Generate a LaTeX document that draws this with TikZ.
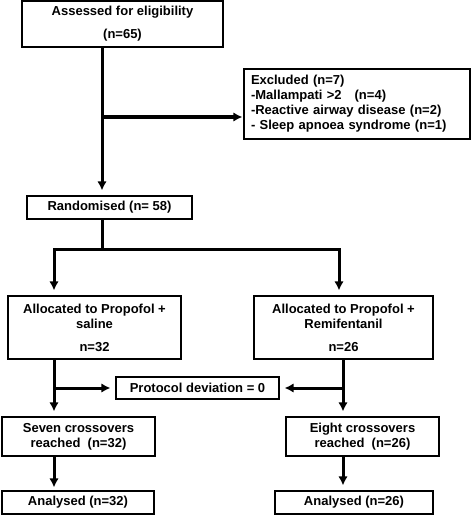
\documentclass[tikz,border=0pt]{standalone}
\usepackage{fontspec}
\setmainfont{Liberation Sans}
\usetikzlibrary{arrows.meta}

\begin{document}
\begin{tikzpicture}[x=1pt,y=-1pt,
  box/.style={draw,line width=1.2pt,align=center,inner sep=0pt,font=\bfseries\fontsize{13}{15}\selectfont},
  lne/.style={line width=3pt},
  arr/.style={lne,-{Latex[length=9pt,width=9.5pt]},shorten >=5pt}]
  \useasboundingbox (0,0) rectangle (472,516);
  % boxes
  \node[box,minimum width=201pt,minimum height=46pt] (assess) at (122.5,24) {Assessed for eligibility\\[8pt](n=65)};
  \node[box,align=left,text width=212pt,inner xsep=7pt,minimum height=70pt] (excl) at (357,104) {Excluded (n=7)\\-Mallampati >2\ \ \ (n=4)\\-Reactive airway disease (n=2)\\- Sleep apnoea syndrome (n=1)};
  \node[box,minimum width=165pt,minimum height=23pt] (rand) at (109.5,207.5) {Randomised (n= 58)};
  \node[box,minimum width=173pt,minimum height=63pt] (allocL) at (94.5,327.5) {Allocated to Propofol +\\saline\\[8pt]n=32};
  \node[box,minimum width=179pt,minimum height=63pt] (allocR) at (343.5,327.5) {Allocated to Propofol +\\Remifentanil\\[8pt]n=26};
  \node[box,minimum width=163pt,minimum height=22pt] (proto) at (197.5,388) {Protocol deviation = 0};
  \node[box,minimum width=153pt,minimum height=39pt] (seven) at (78.5,436.5) {Seven crossovers\\reached\ \ (n=32)};
  \node[box,minimum width=153pt,minimum height=39pt] (eight) at (362.5,436.5) {Eight crossovers\\reached\ \ (n=26)};
  \node[box,minimum width=152pt,minimum height=23pt] (analL) at (78,502.5) {Analysed (n=32)};
  \node[box,minimum width=158pt,minimum height=23pt] (analR) at (354,502.5) {Analysed (n=26)};
  % connector columns
  \coordinate (trunk) at (102,0);
  \coordinate (split) at (102,249);
  \coordinate (lcol) at (54,0);
  \coordinate (rcol) at (339,0);
  \coordinate (rcol2) at (343,0);
  \coordinate (exclin) at ([yshift=-13pt]excl.west);
  % arrows
  \draw[arr] (assess.south -| trunk) -- (rand.north -| trunk);
  \draw[arr,shorten >=1pt] (trunk |- exclin) -- (exclin);
  \draw[lne] (rand.south -| split) -- (split);
  \draw[arr] (split) -| (allocL.north -| lcol);
  \draw[arr] (split) -| (allocR.north -| rcol);
  \draw[arr] (allocL.south -| lcol) -- (seven.north -| lcol);
  \draw[arr] (allocR.south -| rcol2) -- (eight.north -| rcol2);
  \draw[arr] (lcol |- proto.west) -- (proto.west);
  \draw[arr] (rcol2 |- proto.east) -- (proto.east);
  \draw[arr,shorten >=3pt] (seven.south -| lcol) -- (analL.north -| lcol);
  \draw[arr] (eight.south -| rcol2) -- (analR.north -| rcol2);
\end{tikzpicture}
\end{document}
